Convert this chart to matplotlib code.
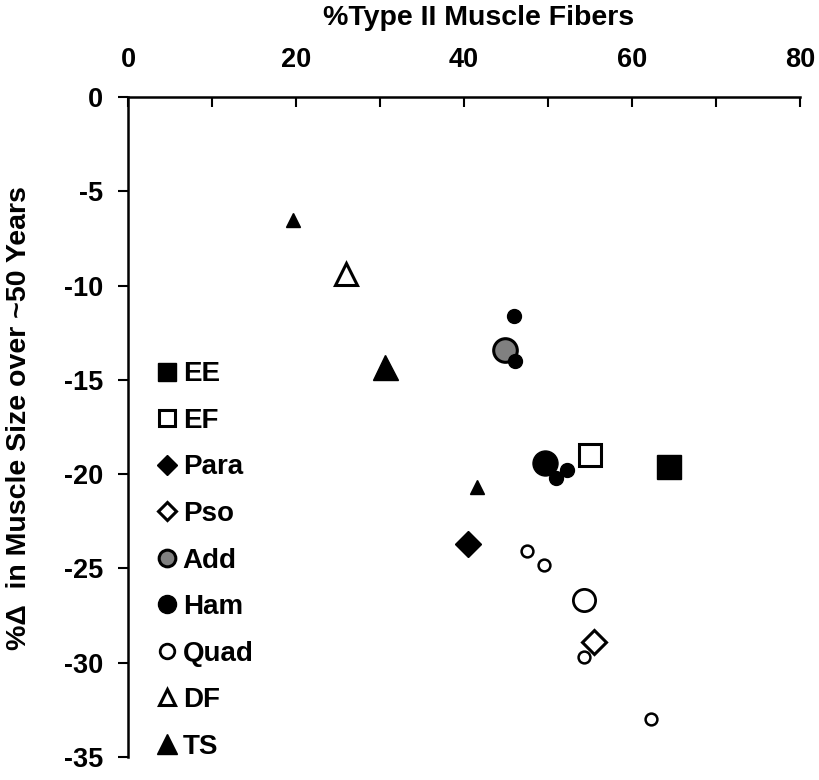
import matplotlib
matplotlib.use('Agg')
import matplotlib.pyplot as plt
from matplotlib.lines import Line2D
from matplotlib.ticker import MultipleLocator

plt.rcParams['font.family'] = ['Liberation Sans', 'DejaVu Sans']
plt.rcParams['font.weight'] = 'bold'
plt.rcParams['axes.unicode_minus'] = False

# 数据: %Type II fibers (x) vs %change in muscle size (y)
# pooled = 大标记 (pooled estimate), 其余为单个研究
muscles = ['EE', 'EF', 'Para', 'Pso', 'Add', 'Ham', 'Quad', 'DF', 'TS']

ee_x = [64.4]
ee_y = [-19.6]
ee_pooled = [True]

ef_x = [55.0]
ef_y = [-19.0]
ef_pooled = [True]

para_x = [40.5]
para_y = [-23.7]
para_pooled = [True]

pso_x = [55.5]
pso_y = [-28.9]
pso_pooled = [True]

add_x = [44.9]
add_y = [-13.4]
add_pooled = [True]

ham_x = [49.7, 46.0, 46.1, 52.3, 51.0]
ham_y = [-19.4, -11.6, -14.0, -19.8, -20.2]
ham_pooled = [True, False, False, False, False]

quad_x = [54.3, 47.5, 49.5, 54.3, 62.3]
quad_y = [-26.7, -24.1, -24.8, -29.7, -33.0]
quad_pooled = [True, False, False, False, False]

df_x = [26.0]
df_y = [-9.4]
df_pooled = [True]

ts_x = [30.6, 19.7, 41.5]
ts_y = [-14.3, -6.5, -20.7]
ts_pooled = [True, False, False]

xs = [ee_x, ef_x, para_x, pso_x, add_x, ham_x, quad_x, df_x, ts_x]
ys = [ee_y, ef_y, para_y, pso_y, add_y, ham_y, quad_y, df_y, ts_y]
pooled = [ee_pooled, ef_pooled, para_pooled, pso_pooled, add_pooled,
          ham_pooled, quad_pooled, df_pooled, ts_pooled]

# 样式: marker, facecolor, 大标记尺寸, 小标记尺寸, 边宽, 图例尺寸
styles = {
    'EE':   ('s', 'black', 17, 10, 1.0, 13),
    'EF':   ('s', 'white', 16, 10, 2.2, 12),
    'Para': ('D', 'black', 13, 8, 1.0, 10),
    'Pso':  ('D', 'white', 12, 8, 2.2, 9.5),
    'Add':  ('o', '#808080', 17, 10, 2.2, 12),
    'Ham':  ('o', 'black', 18, 10, 1.0, 13),
    'Quad': ('o', 'white', 16, 8.5, 2.0, 10.5),
    'DF':   ('^', 'white', 16, 10, 2.2, 12),
    'TS':   ('^', 'black', 18, 10, 1.0, 14),
}

fig = plt.figure(figsize=(8.19, 7.80), dpi=100)
ax = fig.add_axes([0.1563, 0.0295, 0.8205, 0.8462])

for name, x, y, p in zip(muscles, xs, ys, pooled):
    m, fc, big, small, mew, _ = styles[name]
    for xi, yi, pi in zip(x, y, p):
        ms = big if pi else small
        ew = mew if (pi or fc == 'black') else min(mew, 1.8)
        ax.plot([xi], [yi], linestyle='none', marker=m, markersize=ms,
                markerfacecolor=fc, markeredgecolor='black',
                markeredgewidth=ew, zorder=3 if pi else 4)

ax.set_xlim(0, 80)
ax.set_ylim(-35, 0)

# 坐标轴
ax.spines['right'].set_visible(False)
ax.spines['bottom'].set_visible(False)
ax.spines['left'].set_linewidth(1.8)
ax.spines['top'].set_linewidth(1.8)

ax.xaxis.tick_top()
ax.xaxis.set_label_position('top')
ax.xaxis.set_major_locator(MultipleLocator(20))
ax.xaxis.set_minor_locator(MultipleLocator(10))
ax.yaxis.set_major_locator(MultipleLocator(5))
ax.tick_params(axis='x', which='both', direction='in', length=7, width=1.5,
               pad=17, labelsize=19.5)
ax.tick_params(axis='y', which='major', direction='out', length=7, width=1.5,
               pad=11, labelsize=19.5)
for lab in ax.get_xticklabels() + ax.get_yticklabels():
    lab.set_fontweight('bold')

ax.set_xlabel('%Type II Muscle Fibers', fontsize=20.5, fontweight='bold')
ax.xaxis.set_label_coords(0.5216, 1.109)
ax.set_ylabel('%\u0394  in Muscle Size over ~50 Years', fontsize=20.5,
              fontweight='bold')
ax.yaxis.set_label_coords(-0.143, 0.514)

# 图例
handles = []
for name in muscles:
    m, fc, big, small, mew, lms = styles[name]
    handles.append(Line2D([], [], linestyle='none', marker=m, markersize=lms,
                          markerfacecolor=fc, markeredgecolor='black',
                          markeredgewidth=mew if fc != 'black' else 1.0))
ax.legend(handles, muscles, loc='upper left', bbox_to_anchor=(0.1905, 0.5368),
          bbox_transform=fig.transFigure, frameon=False,
          handlelength=0.8, handletextpad=0.16, labelspacing=0.74,
          borderpad=0, borderaxespad=0, prop={'weight': 'bold', 'size': 20})

fig.savefig('out.png', dpi=100)
